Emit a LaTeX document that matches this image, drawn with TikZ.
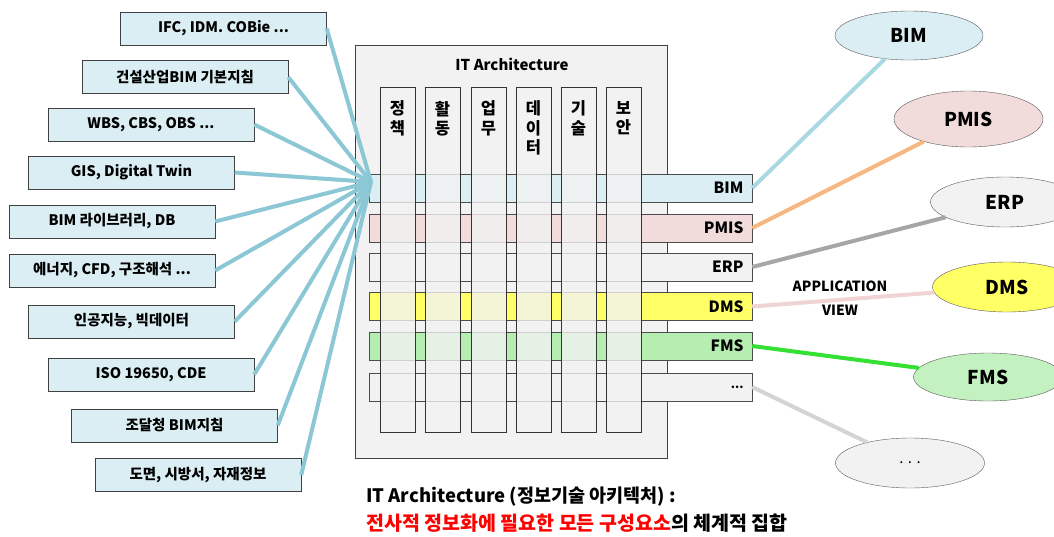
\documentclass[tikz,border=0pt]{standalone}
\usepackage{fontspec}
\setmainfont{Noto Sans CJK KR}
\usepackage{tikz}
\usetikzlibrary{shapes.geometric,positioning}

\definecolor{boxblue}{HTML}{DAEEF3}
\definecolor{linkblue}{HTML}{8CC7D6}
\definecolor{archgray}{HTML}{F2F2F2}
\definecolor{pmispink}{HTML}{F2DCDB}
\definecolor{dmsyellow}{HTML}{FFFF66}
\definecolor{fmsgreen}{HTML}{B5EEB0}
\definecolor{bimline}{HTML}{A8D8E4}
\definecolor{pmisline}{HTML}{F6B880}
\definecolor{erpline}{HTML}{A6A6A6}
\definecolor{dmsline}{HTML}{F0D4D4}
\definecolor{fmsline}{HTML}{33E033}
\definecolor{moreline}{HTML}{D4D4D4}
\definecolor{defred}{HTML}{FF0000}

\tikzset{
  srcbox/.style={draw=black!75, fill=boxblue, minimum width=206pt, minimum height=33pt, inner sep=0pt, font=\bfseries\fontsize{14.5}{16}\selectfont},
  srclink/.style={draw=linkblue, line width=4pt},
  archcol/.style={draw=black!80, fill=archgray, fill opacity=0.8, minimum width=35pt, minimum height=345pt, inner sep=0pt},
  coltext/.style={anchor=north, align=center, inner sep=0pt, font=\bfseries\fontsize{16.5}{19.5}\selectfont},
  archrow/.style={draw=black!70, minimum height=28pt, text width=366pt, inner xsep=8.5pt, inner ysep=0pt, align=right, font=\bfseries\fontsize{15.5}{17}\selectfont},
  appview/.style={ellipse, draw=black!65, minimum width=149pt, minimum height=50pt, inner sep=0pt, font=\bfseries\fontsize{19}{21}\selectfont},
  applink/.style={line width=4pt}
}

\begin{document}
\begin{tikzpicture}[x=1pt,y=-1pt]
\useasboundingbox (0,0) rectangle (1054,536);

% left: sources
\node (src1) [srcbox] at (223.5,28.5) {IFC, IDM. COBie ...};
\node (src2) [srcbox] at (185,77) {건설산업BIM 기본지침};
\node (src3) [srcbox] at (151,124.5) {WBS, CBS, OBS ...};
\node (src4) [srcbox] at (131.5,172.5) {GIS, Digital Twin};
\node (src5) [srcbox] at (112,221.5) {BIM 라이브러리, DB};
\node (src6) [srcbox] at (112,270.5) {에너지, CFD, 구조해석 ...};
\node (src7) [srcbox] at (131.5,321.5) {인공지능, 빅데이터};
\node (src8) [srcbox] at (151,374.5) {ISO 19650, CDE};
\node (src9) [srcbox] at (174.5,425.5) {조달청 BIM지침};
\node (src10) [srcbox] at (198,475) {도면, 시방서, 자재정보};

% IT architecture
\node (arch) [draw=black!75, fill=archgray, minimum width=312pt, minimum height=413pt] at (511,251.5) {};
\node (archTitle) [font=\bfseries\fontsize{15}{17}\selectfont] at (512,64) {IT Architecture};

\node (rowBIM) [archrow, fill=boxblue] at (560.5,188) {BIM};
\node (rowPMIS) [archrow, fill=pmispink] at (560.5,228) {PMIS};
\node (rowERP) [archrow, fill=archgray] at (560.5,267) {ERP};
\node (rowDMS) [archrow, fill=dmsyellow] at (560.5,306.5) {DMS};
\node (rowFMS) [archrow, fill=fmsgreen] at (560.5,346) {FMS};
\node (rowMore) [archrow, fill=archgray, font=\bfseries\fontsize{12}{14}\selectfont] at (560.5,387) {...};

\node (col1) [archcol] at (397.5,259.5) {};
\node (col2) [archcol] at (442.5,259.5) {};
\node (col3) [archcol] at (488.5,259.5) {};
\node (col4) [archcol] at (533.5,259.5) {};
\node (col5) [archcol] at (578.5,259.5) {};
\node (col6) [archcol] at (623.5,259.5) {};
\node [coltext] at ([yshift=-14pt]col1.north) {정\\책};
\node [coltext] at ([yshift=-14pt]col2.north) {활\\동};
\node [coltext] at ([yshift=-14pt]col3.north) {업\\무};
\node [coltext] at ([yshift=-14pt]col4.north) {데\\이\\터};
\node [coltext] at ([yshift=-14pt]col5.north) {기\\술};
\node [coltext] at ([yshift=-14pt]col6.north) {보\\안};

% links into the architecture
\coordinate (hub) at (371,182);
\draw [srclink] (src1.east) -- (hub);
\draw [srclink] (src2.east) -- (hub);
\draw [srclink] (src3.east) -- (hub);
\draw [srclink] (src4.east) -- (hub);
\draw [srclink] (src5.east) -- (hub);
\draw [srclink] (src6.east) -- (hub);
\draw [srclink] (src7.east) -- (hub);
\draw [srclink] (src8.east) -- (hub);
\draw [srclink] (src9.east) -- (hub);
\draw [srclink] (src10.east) -- (hub);

% right: application view
\node (appBIM) [appview, fill=boxblue, minimum width=148pt, minimum height=49pt] at (909,35.5) {BIM};
\node (appPMIS) [appview, fill=pmispink, minimum height=56pt] at (968.5,119) {PMIS};
\node (appERP) [appview, fill=archgray] at (1005,202) {ERP};
\node (appDMS) [appview, fill=dmsyellow] at (1007,287) {DMS};
\node (appFMS) [appview, fill=fmsgreen!80!white, minimum height=48pt] at (988,377) {FMS};
\node (appMore) [appview, fill=archgray, font=\fontsize{15}{17}\selectfont] at (910,463) {. . .};

\draw [applink, bimline] (rowBIM.east) -- (appBIM);
\draw [applink, pmisline] (rowPMIS.east) -- (appPMIS);
\draw [applink, erpline] (rowERP.east) -- (appERP);
\draw [applink, dmsline] (rowDMS.east) -- (appDMS);
\draw [applink, fmsline] (rowFMS.east) -- (appFMS);
\draw [applink, moreline] (rowMore.east) -- (appMore);

\node (appLabel) [align=center, font=\bfseries\fontsize{14}{24}\selectfont] at (840,298) {APPLICATION\\VIEW};

% definition
\node (defTitle) [anchor=west, inner sep=0pt, font=\bfseries\fontsize{18.5}{20}\selectfont] at (366,497) {IT Architecture (정보기술 아키텍처) :};
\node (defBody) [anchor=west, inner sep=0pt, font=\bfseries\fontsize{19.5}{22}\selectfont] at (366,523) {\textcolor{defred}{전사적 정보화에 필요한 모든 구성요소}의 체계적 집합};
\end{tikzpicture}
\end{document}
